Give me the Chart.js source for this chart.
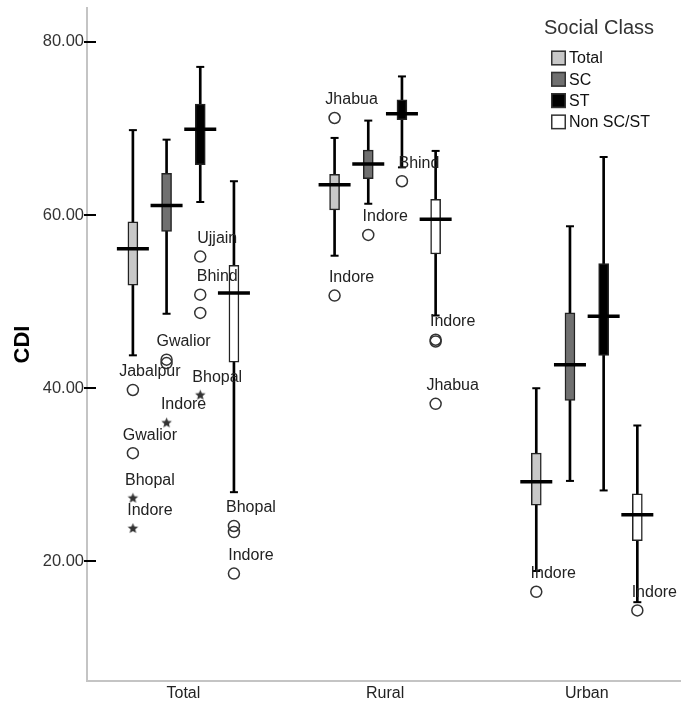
<!DOCTYPE html>
<html>
<head>
<meta charset="utf-8">
<script src="https://cdn.jsdelivr.net/npm/chart.js@4.4.1/dist/chart.umd.min.js"></script>
<style>
  html, body { margin: 0; padding: 0; background: #fff; }
  #wrap { width: 681px; height: 703px; }
</style>
</head>
<body>
<div id="wrap"><canvas id="cdi" width="681" height="703"></canvas></div>
<script>
const groups = ['Total', 'Rural', 'Urban'];
const classes = ['Total', 'SC', 'ST', 'Non SC/ST'];
const yTicks = [20, 40, 60, 80];

// one row per social class, one value per area (Total, Rural, Urban)
const whiskerLow  = [[43.8, 55.3, 18.9], [48.6, 61.3, 29.3], [61.5, 65.5, 28.2], [28.0, 48.4, 15.3]];
const q1          = [[51.9, 60.6, 26.5], [58.1, 64.2, 38.6], [65.8, 71.0, 43.8], [43.0, 55.5, 22.4]];
const median      = [[56.1, 63.5, 29.2], [61.1, 65.9, 42.7], [69.9, 71.7, 48.3], [51.0, 59.5, 25.4]];
const q3          = [[59.2, 64.7, 32.5], [64.8, 67.5, 48.7], [72.8, 73.3, 54.4], [54.2, 61.8, 27.8]];
const whiskerHigh = [[69.8, 68.9, 40.0], [68.7, 70.9, 58.7], [77.1, 76.0, 66.7], [63.9, 67.4, 35.7]];

// [area, class, value, district, extreme]
const outliers = [
  [0, 0, 39.8, 'Jabalpur', false],
  [0, 0, 32.5, 'Gwalior', false],
  [0, 0, 27.3, 'Bhopal', true],
  [0, 0, 23.8, 'Indore', true],
  [0, 1, 43.3, 'Gwalior', false],
  [0, 1, 42.9, '', false],
  [0, 1, 36.0, 'Indore', true],
  [0, 2, 55.2, 'Ujjain', false],
  [0, 2, 50.8, 'Bhind', false],
  [0, 2, 48.7, '', false],
  [0, 2, 39.2, 'Bhopal', true],
  [0, 3, 24.1, 'Bhopal', false],
  [0, 3, 23.4, '', false],
  [0, 3, 18.6, 'Indore', false],
  [1, 0, 71.2, 'Jhabua', false],
  [1, 0, 50.7, 'Indore', false],
  [1, 1, 57.7, 'Indore', false],
  [1, 2, 63.9, 'Bhind', false],
  [1, 3, 45.6, 'Indore', false],
  [1, 3, 45.4, '', false],
  [1, 3, 38.2, 'Jhabua', false],
  [2, 0, 16.5, 'Indore', false],
  [2, 3, 14.35, 'Indore', false]
];

const fills = ['#c8c8c8', '#707070', '#000000', '#ffffff'];
const font = '"Liberation Sans", Arial, sans-serif';
const slot = 0.167;
const xPos = (g, k) => g + (k - 1.5) * slot;

// little filled star for the extreme values
function starImage(r, color) {
  const c = document.createElement('canvas');
  c.width = c.height = Math.ceil(r * 2 + 2);
  const g = c.getContext('2d');
  g.fillStyle = color;
  g.beginPath();
  for (let i = 0; i < 10; i++) {
    const rr = i % 2 ? r * 0.45 : r;
    const a = -Math.PI / 2 + i * Math.PI / 5;
    g.lineTo(c.width / 2 + rr * Math.cos(a), c.height / 2 + rr * Math.sin(a));
  }
  g.closePath();
  g.fill();
  return c;
}
const star = starImage(5.5, '#333');

const datasets = [];

// boxes and whiskers, one pair of bar datasets per class
classes.forEach((cls, k) => {
  datasets.push({
    type: 'bar',
    label: cls,
    data: groups.map((g, i) => ({ x: xPos(i, k), y: [q1[k][i], q3[k][i]] })),
    backgroundColor: fills[k],
    borderColor: '#222',
    borderWidth: 1.5,
    borderSkipped: false,
    barThickness: 10,
    grouped: false,
    order: 2
  });
  datasets.push({
    type: 'bar',
    label: cls + ' whisker',
    data: groups.map((g, i) => ({ x: xPos(i, k), y: [whiskerLow[k][i], whiskerHigh[k][i]] })),
    backgroundColor: '#000',
    borderWidth: 0,
    barThickness: 2,
    grouped: false,
    order: 3
  });
});

const capPoints = [];
const medianPoints = [];
classes.forEach((cls, k) => {
  groups.forEach((g, i) => {
    capPoints.push({ x: xPos(i, k), y: whiskerLow[k][i] });
    capPoints.push({ x: xPos(i, k), y: whiskerHigh[k][i] });
    medianPoints.push({ x: xPos(i, k), y: median[k][i] });
  });
});

datasets.push({
  type: 'scatter', label: 'caps', data: capPoints,
  pointStyle: 'line', pointRadius: 4, pointBorderWidth: 2, pointBorderColor: '#000', order: 1
});
datasets.push({
  type: 'scatter', label: 'medians', data: medianPoints,
  pointStyle: 'line', pointRadius: 16, pointBorderWidth: 3.5, pointBorderColor: '#000', order: 0
});
datasets.push({
  type: 'scatter', label: 'outliers',
  data: outliers.map(o => ({ x: xPos(o[0], o[1]), y: o[2], name: o[3], extreme: o[4] })),
  pointStyle: ctx => (ctx.raw && ctx.raw.extreme) ? star : 'circle',
  pointRadius: 5.5,
  pointBackgroundColor: 'rgba(0,0,0,0)',
  pointBorderColor: '#333',
  pointBorderWidth: 1.5,
  order: 0
});

// district names next to outliers
const outlierLabels = {
  id: 'outlierLabels',
  afterDatasetsDraw(chart) {
    const idx = chart.data.datasets.findIndex(d => d.label === 'outliers');
    const meta = chart.getDatasetMeta(idx);
    const ctx = chart.ctx;
    ctx.save();
    ctx.font = '16px ' + font;
    ctx.fillStyle = '#222';
    ctx.textAlign = 'center';
    ctx.textBaseline = 'middle';
    meta.data.forEach((el, j) => {
      const name = chart.data.datasets[idx].data[j].name;
      if (name) ctx.fillText(name, el.x + 17, el.y - 18);
    });
    ctx.restore();
  }
};

// short tick marks crossing the y axis
const yTickMarks = {
  id: 'yTickMarks',
  afterDraw(chart) {
    const { ctx, chartArea, scales } = chart;
    ctx.save();
    ctx.strokeStyle = '#000';
    ctx.lineWidth = 2;
    yTicks.forEach(v => {
      const y = Math.round(scales.y.getPixelForValue(v));
      ctx.beginPath();
      ctx.moveTo(chartArea.left - 3, y);
      ctx.lineTo(chartArea.left + 9, y);
      ctx.stroke();
    });
    ctx.restore();
  }
};

// legend in the top right corner
const classLegend = {
  id: 'classLegend',
  afterDraw(chart) {
    const ctx = chart.ctx;
    ctx.save();
    ctx.fillStyle = '#333';
    ctx.font = '20px ' + font;
    ctx.textBaseline = 'middle';
    ctx.textAlign = 'left';
    ctx.fillText('Social Class', 544, 28);
    ctx.font = '16px ' + font;
    classes.forEach((cls, k) => {
      const cy = 58 + k * 21.3;
      ctx.fillStyle = fills[k];
      ctx.fillRect(551, cy - 7.5, 15, 15);
      ctx.strokeStyle = '#333';
      ctx.lineWidth = 1.5;
      ctx.strokeRect(551.75, cy - 6.75, 13.5, 13.5);
      ctx.fillStyle = '#111';
      ctx.fillText(cls, 569, cy + 1);
    });
    ctx.restore();
  }
};

const noPadding = s => { s.paddingTop = 0; s.paddingBottom = 0; s.paddingLeft = 0; s.paddingRight = 0; };

new Chart(document.getElementById('cdi'), {
  data: { datasets },
  options: {
    responsive: false,
    animation: false,
    events: [],
    layout: { autoPadding: false, padding: { top: 8, right: 0, left: 0, bottom: 0 } },
    plugins: { legend: { display: false }, tooltip: { enabled: false } },
    scales: {
      x: {
        type: 'linear',
        offset: false,
        min: -0.478,
        max: 2.467,
        afterBuildTicks: s => { s.ticks = groups.map((g, i) => ({ value: i })); },
        afterFit: s => { s.height = 22; noPadding(s); },
        ticks: {
          callback: v => groups[v],
          color: '#222',
          font: { family: font, size: 16 },
          padding: 3,
          maxRotation: 0
        },
        grid: { display: false, drawTicks: false },
        border: { display: true, color: '#c4c4c4', width: 2 }
      },
      y: {
        min: 6.2,
        max: 83.9,
        afterBuildTicks: s => { s.ticks = yTicks.map(v => ({ value: v })); },
        afterFit: s => { s.width = 87; noPadding(s); },
        ticks: {
          callback: v => Number(v).toFixed(2),
          color: '#333',
          font: { family: font, size: 16.5 },
          padding: 3
        },
        grid: { display: false, drawTicks: false },
        border: { display: true, color: '#c4c4c4', width: 2 },
        title: {
          display: true,
          text: 'CDI',
          color: '#000',
          font: { family: font, size: 22, weight: 'bold' },
          padding: { top: 10, bottom: 0 }
        }
      }
    }
  },
  plugins: [outlierLabels, yTickMarks, classLegend]
});
</script>
</body>
</html>
